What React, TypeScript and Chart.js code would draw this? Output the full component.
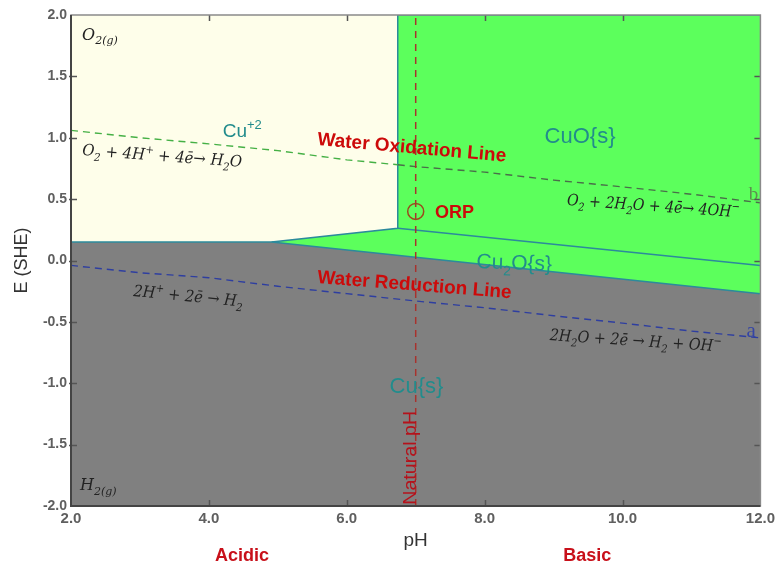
import React, { useEffect, useRef } from 'react';
import { Chart, registerables } from 'chart.js';

Chart.register(...registerables);

// ---------- axis ----------
const PH_MIN = 2;
const PH_MAX = 12;
const E_MIN = -2;
const E_MAX = 2;

// ---------- region boundaries (pH, E) ----------
const creamPH = [2.0, 12.0];
const creamE = [2.0, 2.0];

const greenUpperPH = [4.91, 6.74, 6.74, 12.0];
const greenUpperE = [0.15, 0.263, 2.0, 2.0];

const grayUpperPH = [2.0, 4.91, 12.0];
const grayUpperE = [0.15, 0.15, -0.27];

const cuoCu2oPH = [6.74, 12.0];
const cuoCu2oE = [0.263, -0.04];

// water oxidation (b) and reduction (a) lines
const oxidationPH = [2, 3, 4, 5, 6, 6.74, 7, 8, 9, 10, 11, 12];
const oxidationE = [1.06, 1.0, 0.95, 0.895, 0.82, 0.78, 0.765, 0.72, 0.655, 0.6, 0.54, 0.47];

const reductionPH = [2, 3, 4, 5, 6, 7, 8, 9, 10, 11, 12];
const reductionE = [-0.04, -0.1, -0.14, -0.21, -0.27, -0.33, -0.385, -0.45, -0.51, -0.575, -0.63];

const naturalPH = [7.0, 7.0];
const naturalE = [-2.0, 2.0];

const orpPH = [7.0];
const orpE = [0.4];

const zip = (xs: number[], ys: number[]) => xs.map((x, i) => ({ x, y: ys[i] }));

// ---------- colours ----------
const CREAM = '#FEFEEA';
const GREEN = '#5CFF5C';
const GRAY = '#808080';
const TEAL_LINE = '#2C8A9C';
const TEAL_TEXT = '#228C8C';
const RED = '#CC0A0A';

type Seg = [string, number];
type Label = {
  segs: Seg[];
  ph: number;
  e: number;
  family: string;
  size: number;
  style?: string;
  weight?: string;
  color: string;
  rot?: number;
  width?: number;
};

const SANS = '"Liberation Sans", Arial, sans-serif';
const MATH = '"DejaVu Serif", serif';
const SERIF = '"Liberation Serif", serif';

const labels: Label[] = [
  { segs: [['O', 0], ['2(g)', -1]], ph: 2.16, e: 1.8, family: MATH, size: 16, style: 'italic', color: '#222' },
  { segs: [['H', 0], ['2(g)', -1]], ph: 2.13, e: -1.87, family: MATH, size: 16, style: 'italic', color: '#222' },
  { segs: [['Cu', 0], ['+2', 1]], ph: 4.2, e: 1.006, family: SANS, size: 19, color: TEAL_TEXT },
  { segs: [['Water Oxidation Line', 0]], ph: 5.57, e: 0.94, family: SANS, size: 19, weight: 'bold', color: RED, rot: 5 },
  { segs: [['CuO{s}', 0]], ph: 8.87, e: 0.957, family: SANS, size: 22, color: TEAL_TEXT },
  {
    segs: [['O', 0], ['2', -1], [' + 4H', 0], ['+', 1], [' + 4ē→ H', 0], ['2', -1], ['O', 0]],
    ph: 2.16, e: 0.86, family: MATH, size: 16, style: 'italic', color: '#222', rot: 4.3, width: 160,
  },
  {
    segs: [['O', 0], ['2', -1], [' + 2H', 0], ['2', -1], ['O + 4ē→ 4OH', 0], ['−', 1]],
    ph: 9.19, e: 0.452, family: MATH, size: 16, style: 'italic', color: '#222', rot: 4, width: 173,
  },
  { segs: [['ORP', 0]], ph: 7.28, e: 0.346, family: SANS, size: 18, weight: 'bold', color: RED },
  { segs: [['Cu', 0], ['2', -1], ['O{s}', 0]], ph: 7.88, e: -0.061, family: SANS, size: 21, color: TEAL_TEXT, rot: 2 },
  { segs: [['Water Reduction Line', 0]], ph: 5.57, e: -0.183, family: SANS, size: 19, weight: 'bold', color: RED, rot: 4.5 },
  {
    segs: [['2H', 0], ['+', 1], [' + 2ē → H', 0], ['2', -1]],
    ph: 2.9, e: -0.289, family: MATH, size: 16, style: 'italic', color: '#222', rot: 5.5, width: 110,
  },
  {
    segs: [['2H', 0], ['2', -1], ['O + 2ē → H', 0], ['2', -1], [' + OH', 0], ['−', 1]],
    ph: 8.94, e: -0.648, family: MATH, size: 16, style: 'italic', color: '#222', rot: 3.8, width: 172,
  },
  { segs: [['Cu{s}', 0]], ph: 6.62, e: -1.08, family: SANS, size: 22, color: TEAL_TEXT },
  { segs: [['Natural pH', 0]], ph: 7.01, e: -1.99, family: SANS, size: 18, color: '#B5121B', rot: -90, width: 94 },
  { segs: [['b', 0]], ph: 11.83, e: 0.49, family: SERIF, size: 19, color: '#5E8F4F' },
  { segs: [['a', 0]], ph: 11.8, e: -0.62, family: SERIF, size: 21, color: '#3545A5' },
];

const sideLabels = [
  { text: 'Acidic', ph: 4.48 },
  { text: 'Basic', ph: 9.49 },
];

function drawRich(ctx: CanvasRenderingContext2D, x: number, y: number, l: Label) {
  const style = l.style || 'normal';
  const weight = l.weight || 'normal';
  const fontFor = (s: number) =>
    `${style} ${weight} ${s === 0 ? l.size : Math.round(l.size * 0.68)}px ${l.family}`;
  let total = 0;
  for (const [t, s] of l.segs) {
    ctx.font = fontFor(s);
    total += ctx.measureText(t).width;
  }
  ctx.save();
  ctx.translate(x, y);
  ctx.rotate(((l.rot || 0) * Math.PI) / 180);
  if (l.width) ctx.scale(l.width / total, 1);
  ctx.fillStyle = l.color;
  ctx.textAlign = 'left';
  ctx.textBaseline = 'alphabetic';
  let cx = 0;
  for (const [t, s] of l.segs) {
    ctx.font = fontFor(s);
    const dy = s < 0 ? l.size * 0.3 : s > 0 ? -l.size * 0.42 : 0;
    ctx.fillText(t, cx, dy);
    cx += ctx.measureText(t).width;
  }
  ctx.restore();
}

const annotationPlugin = {
  id: 'pourbaixAnnotations',
  afterDatasetsDraw(chart: any) {
    const { ctx, chartArea, scales } = chart;
    const xs = scales.x;
    const ys = scales.y;
    ctx.save();
    ctx.beginPath();
    ctx.rect(chartArea.left, chartArea.top, chartArea.right - chartArea.left, chartArea.bottom - chartArea.top);
    ctx.clip();
    for (const l of labels) {
      drawRich(ctx, xs.getPixelForValue(l.ph), ys.getPixelForValue(l.e), l);
    }
    ctx.restore();

    ctx.save();
    ctx.font = `bold 18px ${SANS}`;
    ctx.fillStyle = '#C8101A';
    ctx.textAlign = 'center';
    ctx.textBaseline = 'middle';
    for (const s of sideLabels) {
      ctx.fillText(s.text, xs.getPixelForValue(s.ph), chartArea.bottom + 50);
    }
    ctx.restore();
  },
  afterDraw(chart: any) {
    const { ctx, chartArea, scales } = chart;
    const { left, right, top, bottom } = chartArea;
    ctx.save();
    ctx.strokeStyle = '#555';
    ctx.lineWidth = 1.5;
    const T = 6;
    for (const t of scales.x.ticks) {
      if (t.value <= PH_MIN || t.value >= PH_MAX) continue;
      const px = Math.round(scales.x.getPixelForValue(t.value)) + 0.5;
      ctx.beginPath();
      ctx.moveTo(px, bottom);
      ctx.lineTo(px, bottom - T);
      ctx.moveTo(px, top);
      ctx.lineTo(px, top + T);
      ctx.stroke();
    }
    for (const t of scales.y.ticks) {
      if (t.value <= E_MIN || t.value >= E_MAX) continue;
      const py = Math.round(scales.y.getPixelForValue(t.value)) + 0.5;
      ctx.beginPath();
      ctx.moveTo(left - 2, py);
      ctx.lineTo(left + T, py);
      ctx.moveTo(right, py);
      ctx.lineTo(right - T, py);
      ctx.stroke();
    }
    ctx.strokeStyle = '#8a8a8a';
    ctx.lineWidth = 1.5;
    ctx.strokeRect(left, top, right - left, bottom - top);
    ctx.strokeStyle = '#444';
    ctx.lineWidth = 2;
    ctx.beginPath();
    ctx.moveTo(left, top);
    ctx.lineTo(left, bottom);
    ctx.lineTo(right, bottom);
    ctx.stroke();
    ctx.restore();
  },
};

export default function App() {
  const canvasRef = useRef<HTMLCanvasElement | null>(null);

  useEffect(() => {
    if (!canvasRef.current) return;
    const base = { showLine: true, pointRadius: 0, pointHoverRadius: 0 };
    const chart = new Chart(canvasRef.current, {
      type: 'scatter',
      data: {
        datasets: [
          { ...base, label: 'cream', data: zip(creamPH, creamE), fill: 'start', backgroundColor: CREAM, borderWidth: 0, borderColor: CREAM, order: 20 },
          { ...base, label: 'CuO', data: zip(greenUpperPH, greenUpperE), fill: 'start', backgroundColor: GREEN, borderColor: TEAL_LINE, borderWidth: 1.5, order: 19 },
          { ...base, label: 'Cu', data: zip(grayUpperPH, grayUpperE), fill: 'start', backgroundColor: GRAY, borderColor: TEAL_LINE, borderWidth: 1.5, order: 18 },
          { ...base, label: 'CuO/Cu2O', data: zip(cuoCu2oPH, cuoCu2oE), fill: false, borderColor: TEAL_LINE, borderWidth: 1.5, order: 17 },
          {
            ...base, label: 'oxidation', data: zip(oxidationPH, oxidationE), fill: false,
            borderColor: '#45B045', borderWidth: 1.4, borderDash: [7, 5], order: 16,
            segment: { borderColor: (c: any) => (c.p0.parsed.x >= 6.74 ? '#4A6E4A' : '#45B045') },
          },
          { ...base, label: 'reduction', data: zip(reductionPH, reductionE), fill: false, borderColor: '#2E3EA0', borderWidth: 1.4, borderDash: [7, 5], order: 15 },
          { ...base, label: 'natural pH', data: zip(naturalPH, naturalE), fill: false, borderColor: '#A8322D', borderWidth: 1.5, borderDash: [7, 6], order: 14 },
          {
            label: 'ORP', data: zip(orpPH, orpE), showLine: false, pointRadius: 8, pointHoverRadius: 8,
            pointStyle: 'circle', pointBackgroundColor: 'rgba(0,0,0,0)', pointBorderColor: '#9B4A1E', pointBorderWidth: 1.5, order: 13,
          },
        ] as any,
      },
      options: {
        responsive: false,
        animation: false,
        events: [],
        layout: { padding: { left: 0, top: 15, right: 18, bottom: 0 } },
        plugins: { legend: { display: false }, tooltip: { enabled: false } },
        scales: {
          x: {
            type: 'linear',
            min: PH_MIN,
            max: PH_MAX,
            grid: { display: false, drawTicks: false },
            border: { display: false },
            ticks: {
              stepSize: 2,
              autoSkip: false,
              maxRotation: 0,
              padding: 4,
              color: '#5f5f5f',
              font: { family: SANS, size: 15, weight: 'bold' },
              callback: (v: any) => Number(v).toFixed(1),
            },
            title: { display: true, text: 'pH', color: '#333', font: { family: SANS, size: 19 }, padding: { top: 0, bottom: 15 } },
            afterFit: (s: any) => { s.height = 61; },
          },
          y: {
            type: 'linear',
            min: E_MIN,
            max: E_MAX,
            grid: { display: false, drawTicks: false },
            border: { display: false },
            ticks: {
              stepSize: 0.5,
              autoSkip: false,
              padding: 4,
              color: '#5f5f5f',
              font: { family: SANS, size: 14, weight: 'bold' },
              callback: (v: any) => Number(v).toFixed(1),
            },
            title: { display: true, text: 'E (SHE)', color: '#333', font: { family: SANS, size: 18 }, padding: { top: 11, bottom: 0 } },
            afterFit: (s: any) => { s.width = 71; },
          },
        },
      } as any,
      plugins: [annotationPlugin],
    });
    return () => chart.destroy();
  }, []);

  return (
    <div style={{ position: 'absolute', left: 0, top: 0, width: 779, height: 567, background: '#fff' }}>
      <canvas ref={canvasRef} width={779} height={567} />
    </div>
  );
}
